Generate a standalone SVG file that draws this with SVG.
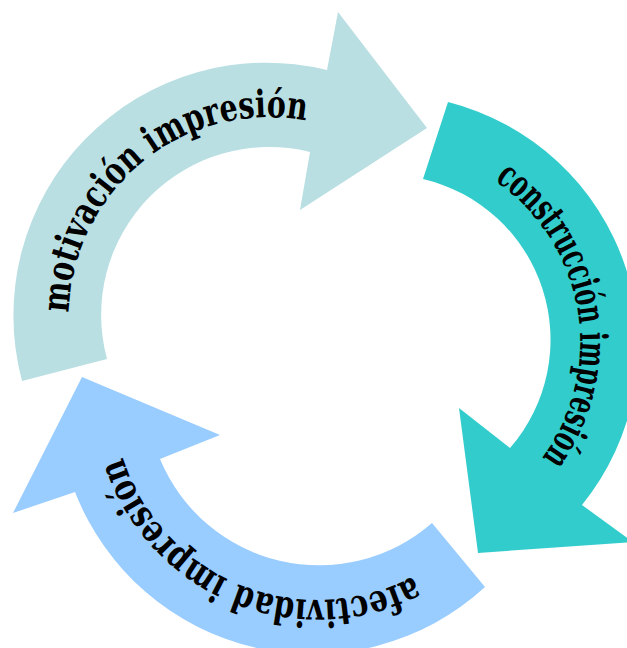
<svg xmlns="http://www.w3.org/2000/svg" width="627" height="648" viewBox="0 0 627 648">
  <style>
    .lbl { font-family: "DejaVu Serif", "Liberation Serif", serif; font-weight: bold; font-size: 38px; fill: #000; }
    .a1 { fill: #b9dfe2; }
    .a2 { fill: #33cccc; }
    .a3 { fill: #99ccff; }
  </style>
  <defs>
    <path id="p1" d="M 78.8 379.8 A 200 200 0 0 1 369.5 144.4"/>
    <path id="p2" d="M 419.9 150.1 A 195 195 0 0 1 481.6 511.4"/>
    <path id="p3" d="M 469.6 533.0 A 205 205 0 0 1 113.2 386.8"/>
  </defs>
  <rect width="627" height="648" fill="#fff"/>
  <g id="motivacion">
    <path class="a1" d="M 22 381 A 253 253 0 0 1 327 70 L 338 12 L 427 128 L 300 210 L 310 152 A 168 168 0 0 0 107 359 Z"/>
    <text class="lbl"><textPath href="#p1" startOffset="50%" text-anchor="middle" textLength="347" lengthAdjust="spacingAndGlyphs">motivación impresión</textPath></text>
  </g>
  <g id="construccion">
    <path class="a2" d="M 448 102 A 252 252 0 0 1 582 505 L 633 542 L 478 553 L 459 408 L 510 448 A 165 165 0 0 0 423 179 Z"/>
    <text class="lbl"><textPath href="#p2" startOffset="50%" text-anchor="middle" textLength="314" lengthAdjust="spacingAndGlyphs">construcción impresión</textPath></text>
  </g>
  <g id="afectividad">
    <path class="a3" d="M 485 587 A 255 255 0 0 1 75 492 L 13 513 L 82 377 L 220 435 L 160 459 A 172 172 0 0 0 432 523 Z"/>
    <text class="lbl"><textPath href="#p3" startOffset="50%" text-anchor="middle" textLength="358" lengthAdjust="spacingAndGlyphs">afectividad impresión</textPath></text>
  </g>
</svg>
